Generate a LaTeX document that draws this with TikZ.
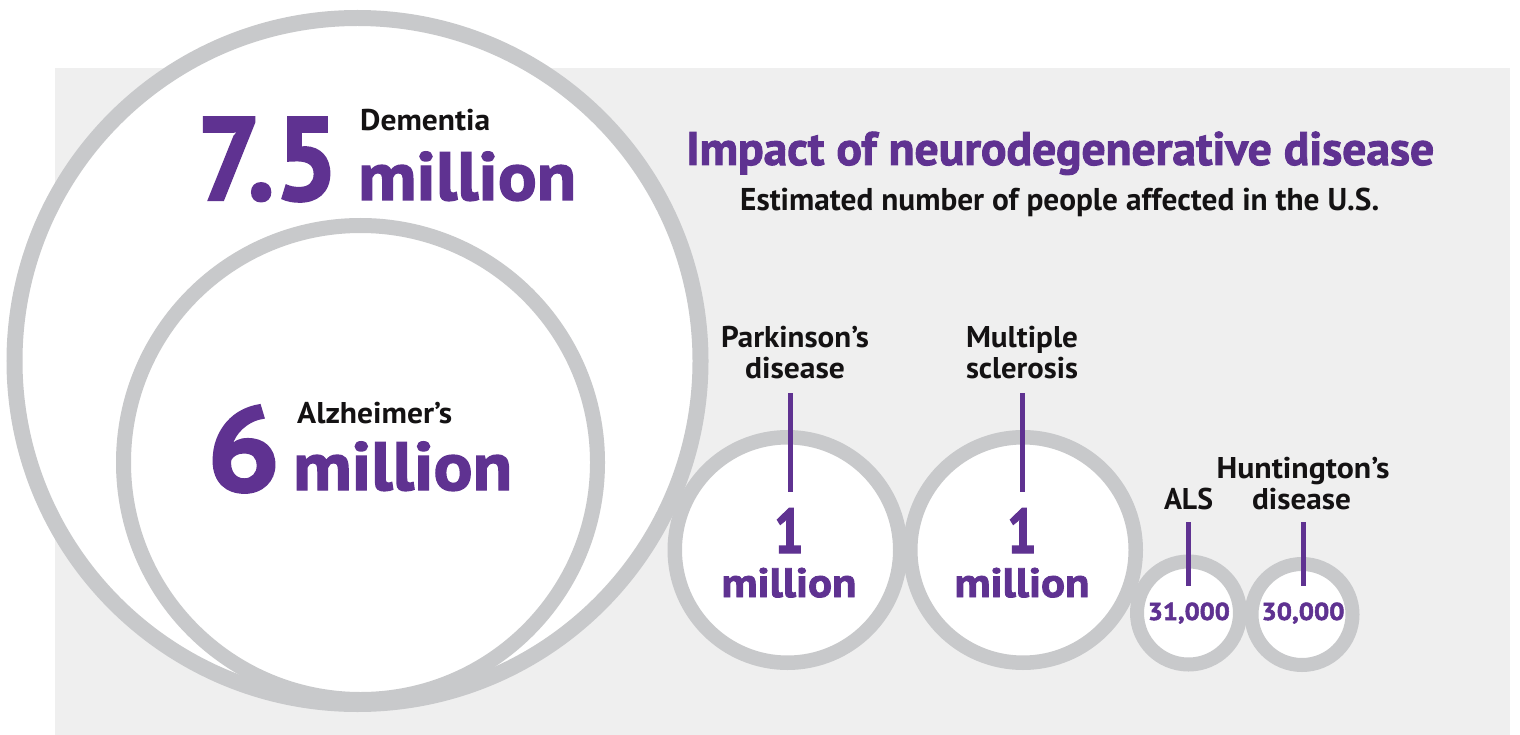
\documentclass[tikz,border=0pt]{standalone}
\usepackage{fontspec}
\setmainfont{PT Sans}
\newfontfamily\heavyfont{PT Sans}[BoldFeatures={FakeBold=2}]
\usepackage{graphicx}
\definecolor{dpurple}{RGB}{95,50,145}
\definecolor{ringgray}{RGB}{200,201,203}
\definecolor{bggray}{RGB}{239,239,239}
\definecolor{ink}{RGB}{20,18,19}
\newlength\natw
\newcommand\fitx[2]{\settowidth\natw{#2}\pgfmathsetmacro\fxs{#1/\natw}\scalebox{\fxs}[1]{#2}}
\begin{document}
\begin{tikzpicture}[x=1pt,y=-1pt,
  ring/.style={circle, draw=ringgray, fill=white, inner sep=0pt},
  lbl/.style={inner sep=0pt, text=ink, font=\bfseries\fontsize{30}{30}\selectfont},
  num/.style={inner sep=0pt, text=dpurple, font=\heavyfont\bfseries\fontsize{#1}{#1}\selectfont},
  stem/.style={draw=dpurple, line width=5pt}]
\useasboundingbox (0,0) rectangle (1520,735);
\fill[bggray] (55,68) rectangle (1510,735);
% circles
\node[ring, line width=16pt, minimum size=686pt] (dem) at (357.5,361) {};
\node[ring, line width=15pt, minimum size=474pt] (alz) at (360.5,462.5) {};
\node[ring, line width=14.5pt, minimum size=225.5pt] (park) at (787.5,550) {};
\node[ring, line width=14.5pt, minimum size=225.5pt] (ms) at (1023,550) {};
\node[ring, line width=14pt, minimum size=103pt] (als) at (1188.5,613) {};
\node[ring, line width=14pt, minimum size=101pt] (hunt) at (1302,614.5) {};
% dementia / alzheimer texts
\node[lbl, anchor=base west] (demlbl) at (360,131) {\fitx{130}{Dementia}};
\node[num=118, anchor=base west] (demnum) at (197,200) {\fitx{141}{7.5}};
\node[num=68, anchor=base west] (demmil) at (358,200) {\fitx{218}{million}};
\node[lbl, anchor=base west] (alzlbl) at (297,423) {\fitx{155}{Alzheimer’s}};
\node[num=120, anchor=base west] (alznum) at (207,491) {\fitx{73}{6}};
\node[num=68, anchor=base west] (alzmil) at (293,490) {\fitx{219}{million}};
% title
\node[num=47, anchor=base west] (title) at (686,165) {\fitx{748}{Impact of neurodegenerative disease}};
\node[lbl, font=\bfseries\fontsize{31.5}{32}\selectfont, anchor=base west] (sub) at (740,211) {\fitx{639}{Estimated number of people affected in the U.S.}};
% labels
\node[lbl, anchor=base] (park1) at (795,347) {\fitx{148}{Parkinson’s}};
\node[lbl, anchor=base] (park2) at (795,378) {\fitx{100}{disease}};
\node[lbl, anchor=base] (ms1) at (1022,347) {\fitx{112}{Multiple}};
\node[lbl, anchor=base] (ms2) at (1022,378) {\fitx{112}{sclerosis}};
\node[lbl, anchor=base] (alslbl) at (1188.5,509) {\fitx{49}{ALS}};
\node[lbl, anchor=base] (hunt1) at (1303,478) {\fitx{173}{Huntington’s}};
\node[lbl, anchor=base] (hunt2) at (1301.5,509) {\fitx{99}{disease}};
% numbers
\node[num=63, anchor=base] (pnum) at (789,553) {\fitx{30}{1}};
\node[num=41, anchor=base] (pmil) at (789,597) {\fitx{135}{million}};
\node[num=63, anchor=base] (mnum) at (1022,553) {\fitx{30}{1}};
\node[num=41, anchor=base] (mmil) at (1022,597) {\fitx{135}{million}};
\node[num=24.5, anchor=base] (alsnum) at (1188.8,620) {\fitx{82}{31,000}};
\node[num=24.5, anchor=base] (huntnum) at (1303,620) {\fitx{83}{30,000}};
% stems
\coordinate (ps1) at (790,393); \coordinate (ps2) at (790,492);
\coordinate (ms1s) at (1022,393); \coordinate (ms2s) at (1022,492);
\coordinate (as1) at (1188,522); \coordinate (as2) at (1188,586);
\coordinate (hs1) at (1303,522); \coordinate (hs2) at (1303,586);
\draw[stem] (ps1) -- (ps2);
\draw[stem] (ms1s) -- (ms2s);
\draw[stem] (as1) -- (as2);
\draw[stem] (hs1) -- (hs2);
\end{tikzpicture}
\end{document}
